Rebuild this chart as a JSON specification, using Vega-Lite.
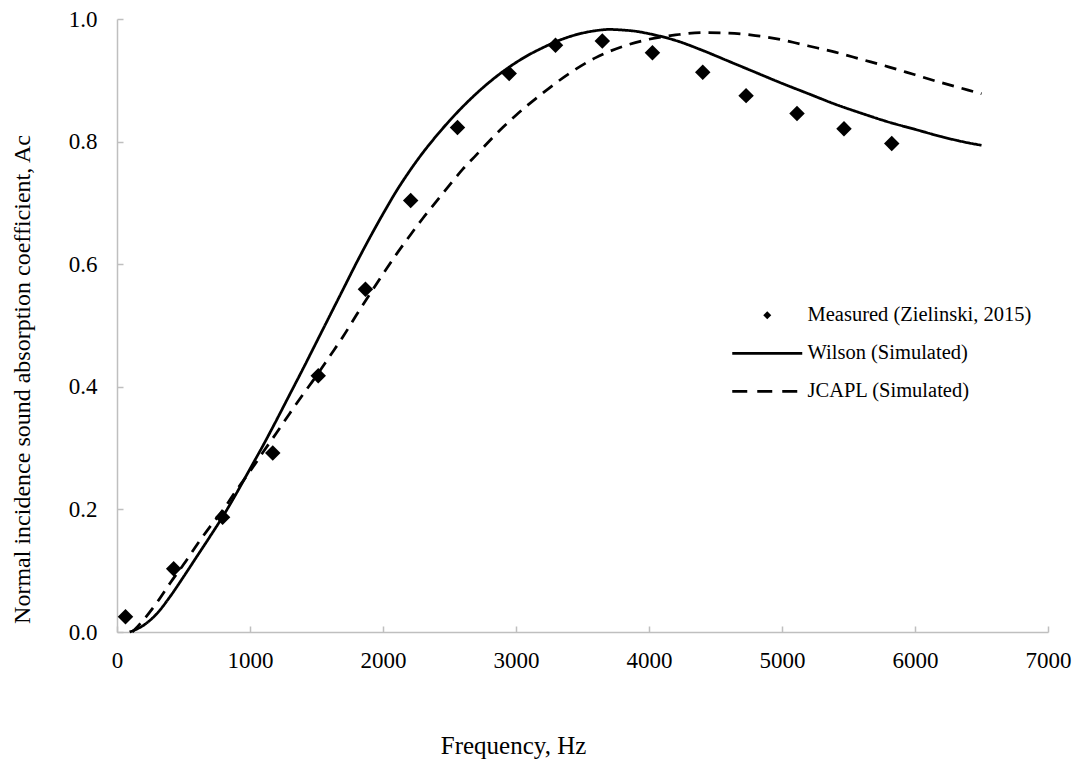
{
  "$schema": "https://vega.github.io/schema/vega-lite/v6.json",
  "autosize": "none",
  "width": 931,
  "height": 613,
  "padding": {"left": 117, "top": 19, "right": 27, "bottom": 132},
  "background": "white",
  "config": {
    "view": {"stroke": null},
    "font": "Liberation Serif",
    "axis": {
      "grid": false,
      "domainColor": "#bfbfbf",
      "domainWidth": 1.5,
      "tickColor": "#bfbfbf",
      "tickWidth": 1.5
    }
  },
  "datasets": {
    "measured": [
      {"series": "Measured (Zielinski, 2015)", "freq": 64, "ac": 0.025},
      {"series": "Measured (Zielinski, 2015)", "freq": 426, "ac": 0.103},
      {"series": "Measured (Zielinski, 2015)", "freq": 794, "ac": 0.187},
      {"series": "Measured (Zielinski, 2015)", "freq": 1171, "ac": 0.292},
      {"series": "Measured (Zielinski, 2015)", "freq": 1513, "ac": 0.418},
      {"series": "Measured (Zielinski, 2015)", "freq": 1868, "ac": 0.559},
      {"series": "Measured (Zielinski, 2015)", "freq": 2208, "ac": 0.704},
      {"series": "Measured (Zielinski, 2015)", "freq": 2560, "ac": 0.823},
      {"series": "Measured (Zielinski, 2015)", "freq": 2949, "ac": 0.911},
      {"series": "Measured (Zielinski, 2015)", "freq": 3297, "ac": 0.957},
      {"series": "Measured (Zielinski, 2015)", "freq": 3649, "ac": 0.964},
      {"series": "Measured (Zielinski, 2015)", "freq": 4026, "ac": 0.945},
      {"series": "Measured (Zielinski, 2015)", "freq": 4404, "ac": 0.913},
      {"series": "Measured (Zielinski, 2015)", "freq": 4730, "ac": 0.875},
      {"series": "Measured (Zielinski, 2015)", "freq": 5113, "ac": 0.846},
      {"series": "Measured (Zielinski, 2015)", "freq": 5466, "ac": 0.821},
      {"series": "Measured (Zielinski, 2015)", "freq": 5825, "ac": 0.797}
    ],
    "lines": [
      {"series": "Wilson (Simulated)", "freq": 95, "ac": 0.0},
      {"series": "Wilson (Simulated)", "freq": 200, "ac": 0.011},
      {"series": "Wilson (Simulated)", "freq": 300, "ac": 0.03},
      {"series": "Wilson (Simulated)", "freq": 400, "ac": 0.058},
      {"series": "Wilson (Simulated)", "freq": 500, "ac": 0.09},
      {"series": "Wilson (Simulated)", "freq": 600, "ac": 0.123},
      {"series": "Wilson (Simulated)", "freq": 700, "ac": 0.156},
      {"series": "Wilson (Simulated)", "freq": 800, "ac": 0.19},
      {"series": "Wilson (Simulated)", "freq": 900, "ac": 0.227},
      {"series": "Wilson (Simulated)", "freq": 1000, "ac": 0.266},
      {"series": "Wilson (Simulated)", "freq": 1100, "ac": 0.305},
      {"series": "Wilson (Simulated)", "freq": 1200, "ac": 0.346},
      {"series": "Wilson (Simulated)", "freq": 1300, "ac": 0.388},
      {"series": "Wilson (Simulated)", "freq": 1400, "ac": 0.43},
      {"series": "Wilson (Simulated)", "freq": 1500, "ac": 0.473},
      {"series": "Wilson (Simulated)", "freq": 1600, "ac": 0.516},
      {"series": "Wilson (Simulated)", "freq": 1700, "ac": 0.559},
      {"series": "Wilson (Simulated)", "freq": 1800, "ac": 0.602},
      {"series": "Wilson (Simulated)", "freq": 1900, "ac": 0.643},
      {"series": "Wilson (Simulated)", "freq": 2000, "ac": 0.682},
      {"series": "Wilson (Simulated)", "freq": 2100, "ac": 0.719},
      {"series": "Wilson (Simulated)", "freq": 2200, "ac": 0.752},
      {"series": "Wilson (Simulated)", "freq": 2300, "ac": 0.782},
      {"series": "Wilson (Simulated)", "freq": 2400, "ac": 0.809},
      {"series": "Wilson (Simulated)", "freq": 2500, "ac": 0.834},
      {"series": "Wilson (Simulated)", "freq": 2600, "ac": 0.857},
      {"series": "Wilson (Simulated)", "freq": 2700, "ac": 0.878},
      {"series": "Wilson (Simulated)", "freq": 2800, "ac": 0.897},
      {"series": "Wilson (Simulated)", "freq": 2900, "ac": 0.914},
      {"series": "Wilson (Simulated)", "freq": 3000, "ac": 0.929},
      {"series": "Wilson (Simulated)", "freq": 3100, "ac": 0.942},
      {"series": "Wilson (Simulated)", "freq": 3200, "ac": 0.953},
      {"series": "Wilson (Simulated)", "freq": 3300, "ac": 0.963},
      {"series": "Wilson (Simulated)", "freq": 3400, "ac": 0.971},
      {"series": "Wilson (Simulated)", "freq": 3500, "ac": 0.977},
      {"series": "Wilson (Simulated)", "freq": 3600, "ac": 0.981},
      {"series": "Wilson (Simulated)", "freq": 3700, "ac": 0.983},
      {"series": "Wilson (Simulated)", "freq": 3800, "ac": 0.982},
      {"series": "Wilson (Simulated)", "freq": 3900, "ac": 0.98},
      {"series": "Wilson (Simulated)", "freq": 4000, "ac": 0.976},
      {"series": "Wilson (Simulated)", "freq": 4200, "ac": 0.965},
      {"series": "Wilson (Simulated)", "freq": 4400, "ac": 0.949},
      {"series": "Wilson (Simulated)", "freq": 4600, "ac": 0.931},
      {"series": "Wilson (Simulated)", "freq": 4800, "ac": 0.913},
      {"series": "Wilson (Simulated)", "freq": 5000, "ac": 0.895},
      {"series": "Wilson (Simulated)", "freq": 5200, "ac": 0.878},
      {"series": "Wilson (Simulated)", "freq": 5400, "ac": 0.861},
      {"series": "Wilson (Simulated)", "freq": 5600, "ac": 0.846},
      {"series": "Wilson (Simulated)", "freq": 5800, "ac": 0.832},
      {"series": "Wilson (Simulated)", "freq": 6000, "ac": 0.82},
      {"series": "Wilson (Simulated)", "freq": 6200, "ac": 0.808},
      {"series": "Wilson (Simulated)", "freq": 6400, "ac": 0.798},
      {"series": "Wilson (Simulated)", "freq": 6500, "ac": 0.794},
      {"series": "JCAPL (Simulated)", "freq": 115, "ac": 0.0},
      {"series": "JCAPL (Simulated)", "freq": 200, "ac": 0.02},
      {"series": "JCAPL (Simulated)", "freq": 300, "ac": 0.048},
      {"series": "JCAPL (Simulated)", "freq": 400, "ac": 0.08},
      {"series": "JCAPL (Simulated)", "freq": 500, "ac": 0.11},
      {"series": "JCAPL (Simulated)", "freq": 600, "ac": 0.142},
      {"series": "JCAPL (Simulated)", "freq": 700, "ac": 0.172},
      {"series": "JCAPL (Simulated)", "freq": 800, "ac": 0.2},
      {"series": "JCAPL (Simulated)", "freq": 900, "ac": 0.232},
      {"series": "JCAPL (Simulated)", "freq": 1000, "ac": 0.262},
      {"series": "JCAPL (Simulated)", "freq": 1100, "ac": 0.294},
      {"series": "JCAPL (Simulated)", "freq": 1200, "ac": 0.325},
      {"series": "JCAPL (Simulated)", "freq": 1300, "ac": 0.357},
      {"series": "JCAPL (Simulated)", "freq": 1400, "ac": 0.388},
      {"series": "JCAPL (Simulated)", "freq": 1500, "ac": 0.418},
      {"series": "JCAPL (Simulated)", "freq": 1600, "ac": 0.45},
      {"series": "JCAPL (Simulated)", "freq": 1700, "ac": 0.482},
      {"series": "JCAPL (Simulated)", "freq": 1800, "ac": 0.517},
      {"series": "JCAPL (Simulated)", "freq": 1900, "ac": 0.551},
      {"series": "JCAPL (Simulated)", "freq": 2000, "ac": 0.584},
      {"series": "JCAPL (Simulated)", "freq": 2100, "ac": 0.616},
      {"series": "JCAPL (Simulated)", "freq": 2200, "ac": 0.646},
      {"series": "JCAPL (Simulated)", "freq": 2300, "ac": 0.675},
      {"series": "JCAPL (Simulated)", "freq": 2400, "ac": 0.702},
      {"series": "JCAPL (Simulated)", "freq": 2500, "ac": 0.729},
      {"series": "JCAPL (Simulated)", "freq": 2600, "ac": 0.755},
      {"series": "JCAPL (Simulated)", "freq": 2700, "ac": 0.778},
      {"series": "JCAPL (Simulated)", "freq": 2800, "ac": 0.801},
      {"series": "JCAPL (Simulated)", "freq": 2900, "ac": 0.823},
      {"series": "JCAPL (Simulated)", "freq": 3000, "ac": 0.843},
      {"series": "JCAPL (Simulated)", "freq": 3200, "ac": 0.879},
      {"series": "JCAPL (Simulated)", "freq": 3400, "ac": 0.911},
      {"series": "JCAPL (Simulated)", "freq": 3600, "ac": 0.937},
      {"series": "JCAPL (Simulated)", "freq": 3800, "ac": 0.955},
      {"series": "JCAPL (Simulated)", "freq": 4000, "ac": 0.967},
      {"series": "JCAPL (Simulated)", "freq": 4200, "ac": 0.974},
      {"series": "JCAPL (Simulated)", "freq": 4400, "ac": 0.978},
      {"series": "JCAPL (Simulated)", "freq": 4600, "ac": 0.977},
      {"series": "JCAPL (Simulated)", "freq": 4800, "ac": 0.973},
      {"series": "JCAPL (Simulated)", "freq": 5000, "ac": 0.966},
      {"series": "JCAPL (Simulated)", "freq": 5200, "ac": 0.956},
      {"series": "JCAPL (Simulated)", "freq": 5400, "ac": 0.946},
      {"series": "JCAPL (Simulated)", "freq": 5600, "ac": 0.934},
      {"series": "JCAPL (Simulated)", "freq": 5800, "ac": 0.922},
      {"series": "JCAPL (Simulated)", "freq": 6000, "ac": 0.909},
      {"series": "JCAPL (Simulated)", "freq": 6200, "ac": 0.896},
      {"series": "JCAPL (Simulated)", "freq": 6400, "ac": 0.884},
      {"series": "JCAPL (Simulated)", "freq": 6500, "ac": 0.878}
    ]
  },
  "encoding": {
    "x": {
      "field": "freq", "type": "quantitative",
      "scale": {"domain": [0, 7000], "nice": false},
      "axis": {
        "title": "Frequency, Hz",
        "values": [0, 1000, 2000, 3000, 4000, 5000, 6000, 7000],
        "format": "d",
        "tickSize": -6,
        "labelFlush": false,
        "labelOverlap": false,
        "labelPadding": 23,
        "labelFont": "Liberation Serif",
        "labelFontSize": 23,
        "labelColor": "black",
        "titleFont": "Liberation Serif",
        "titleFontSize": 25,
        "titleFontWeight": "normal",
        "titleColor": "black",
        "titleX": 396,
        "titleY": 113,
        "titleBaseline": "middle",
        "titleAlign": "center",
        "titleAnchor": null
      }
    },
    "y": {
      "field": "ac", "type": "quantitative",
      "scale": {"domain": [0, 1], "nice": false},
      "axis": {
        "title": "Normal incidence sound absorption coefficient, Ac",
        "values": [0, 0.2, 0.4, 0.6, 0.8, 1.0],
        "format": ".1f",
        "tickSize": -6,
        "labelFlush": false,
        "labelOverlap": false,
        "labelPadding": 26,
        "labelFont": "Liberation Serif",
        "labelFontSize": 23,
        "labelColor": "black",
        "titleFont": "Liberation Serif",
        "titleFontSize": 24,
        "titleFontWeight": "normal",
        "titleColor": "black",
        "titleX": -95,
        "titleY": 360,
        "titleAngle": 270,
        "titleBaseline": "middle",
        "titleAlign": "center",
        "titleAnchor": null
      }
    },
    "color": {
      "field": "series", "type": "nominal",
      "scale": {
        "domain": ["Measured (Zielinski, 2015)", "Wilson (Simulated)", "JCAPL (Simulated)"],
        "range": ["black", "black", "black"]
      },
      "legend": {
        "title": null,
        "orient": "none",
        "legendX": 608,
        "legendY": 286,
        "padding": 0,
        "labelFont": "Liberation Serif",
        "labelFontSize": 20.5,
        "labelColor": "black",
        "labelLimit": 400,
        "labelOffset": 30,
        "symbolSize": 64,
        "rowPadding": 17,
        "symbolOffset": 32,
        "encode": {
          "symbols": {
            "update": {
              "shape": {"signal": "datum.value === 'Measured (Zielinski, 2015)' ? 'diamond' : 'M-8.75,0L8.75,0'"},
              "fill": {"signal": "datum.value === 'Measured (Zielinski, 2015)' ? 'black' : 'transparent'"},
              "stroke": {"value": "black"},
              "strokeWidth": {"signal": "datum.value === 'Measured (Zielinski, 2015)' ? 0 : 2.75"},
              "strokeDash": {"signal": "datum.value === 'JCAPL (Simulated)' ? [15, 10] : [1, 0]"},
              "size": {"value": 64},
              "opacity": {"value": 1}
            }
          }
        }
      }
    }
  },
  "layer": [
    {
      "data": {"name": "lines"},
      "mark": {"type": "line", "strokeWidth": 2.75, "interpolate": "monotone"},
      "encoding": {
        "strokeDash": {
          "field": "series", "type": "nominal",
          "scale": {"domain": ["Wilson (Simulated)", "JCAPL (Simulated)"], "range": [[1, 0], [12, 8]]},
          "legend": null
        }
      }
    },
    {
      "data": {"name": "measured"},
      "mark": {"type": "point", "shape": "diamond", "filled": true, "size": 240, "opacity": 1}
    }
  ]
}
